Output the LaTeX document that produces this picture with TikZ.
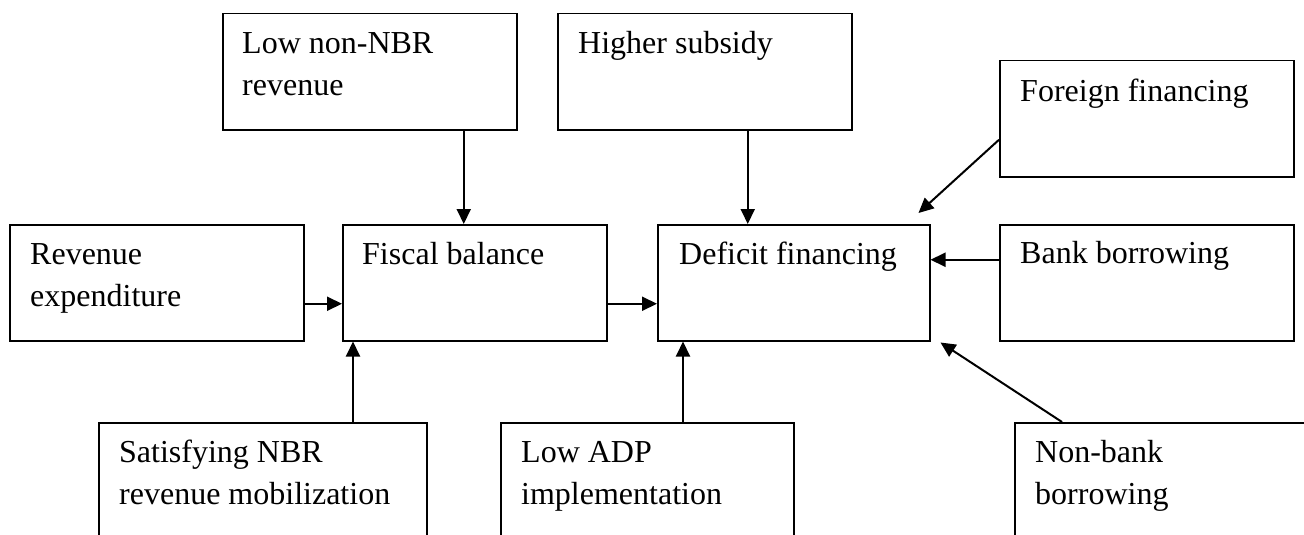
\documentclass[tikz,border=0pt]{standalone}
\usepackage{fontspec}
\setmainfont{Liberation Serif}
\usetikzlibrary{arrows.meta}
\tikzset{
  box/.style={draw, line width=1.5pt, anchor=north west, inner sep=0pt},
  txt/.style={anchor=north west, inner sep=0pt, align=left, font=\fontsize{32}{42}\selectfont},
  arr/.style={line width=2pt, -{Triangle[length=15pt,width=14pt]}}
}
\begin{document}
\begin{tikzpicture}[x=1pt,y=-1pt]
\useasboundingbox (0,0) rectangle (1304,535);
\clip (0,0) rectangle (1304,535);
% boxes
\node[box, minimum width=294pt, minimum height=116pt] (lownbr) at (222,13) {};
\node[box, minimum width=294pt, minimum height=116pt] (subsidy) at (557,13) {};
\node[box, minimum width=294pt, minimum height=116pt] (foreign) at (999,60) {};
\node[box, minimum width=294pt, minimum height=116pt] (revexp) at (9,224) {};
\node[box, minimum width=264pt, minimum height=116pt] (fiscal) at (342,224) {};
\node[box, minimum width=272pt, minimum height=116pt] (deficit) at (657,224) {};
\node[box, minimum width=294pt, minimum height=116pt] (bank) at (999,224) {};
\node[box, minimum width=328pt, minimum height=150pt] (satisfy) at (98,422) {};
\node[box, minimum width=293pt, minimum height=150pt] (lowadp) at (500,422) {};
\node[box, minimum width=330pt, minimum height=150pt] (nonbank) at (1014,422) {};
% texts
\node[txt] (lownbr-t) at ([xshift=20pt,yshift=-10.6pt]lownbr.north west) {\strut Low non-NBR\\revenue};
\node[txt] (subsidy-t) at ([xshift=21pt,yshift=-10.6pt]subsidy.north west) {\strut Higher subsidy};
\node[txt] (foreign-t) at ([xshift=21pt,yshift=-12pt]foreign.north west) {\strut Foreign financing};
\node[txt] (revexp-t) at ([xshift=21pt,yshift=-10.6pt]revexp.north west) {\strut Revenue\\expenditure};
\node[txt] (fiscal-t) at ([xshift=20pt,yshift=-10.6pt]fiscal.north west) {\strut Fiscal balance};
\node[txt] (deficit-t) at ([xshift=22pt,yshift=-10.6pt]deficit.north west) {\strut Deficit financing};
\node[txt] (bank-t) at ([xshift=21pt,yshift=-10pt]bank.north west) {\strut Bank borrowing};
\node[txt] (satisfy-t) at ([xshift=21pt,yshift=-10.6pt]satisfy.north west) {\strut Satisfying NBR\\revenue mobilization};
\node[txt] (lowadp-t) at ([xshift=21pt,yshift=-10.6pt]lowadp.north west) {\strut Low ADP\\implementation};
\node[txt] (nonbank-t) at ([xshift=21pt,yshift=-10.6pt]nonbank.north west) {\strut Non-bank\\borrowing};
% arrows
\draw[arr] ([xshift=94pt]lownbr.south) -- ([xshift=94pt]lownbr.south |- fiscal.north);
\draw[arr] ([xshift=43pt]subsidy.south) -- ([xshift=43pt]subsidy.south |- deficit.north);
\coordinate (foreign-end) at ([xshift=-12pt,yshift=11pt]deficit.north east);
\draw[arr] ([yshift=-21pt]foreign.west) -- (foreign-end);
\draw[arr] ([yshift=23pt]bank.west) -- ([yshift=23pt]bank.west -| deficit.east);
\coordinate (nonbank-end) at ([xshift=10pt,yshift=-1pt]deficit.south east);
\draw[arr] ([xshift=48pt]nonbank.north west) -- (nonbank-end);
\draw[arr] ([yshift=-21pt]revexp.east) -- ([yshift=-21pt]revexp.east -| fiscal.west);
\draw[arr] ([yshift=-21pt]fiscal.east) -- ([yshift=-21pt]fiscal.east -| deficit.west);
\draw[arr] ([xshift=255pt]satisfy.north west) -- ([xshift=255pt]satisfy.north west |- fiscal.south);
\draw[arr] ([xshift=183pt]lowadp.north west) -- ([xshift=183pt]lowadp.north west |- deficit.south);
\end{tikzpicture}
\end{document}
